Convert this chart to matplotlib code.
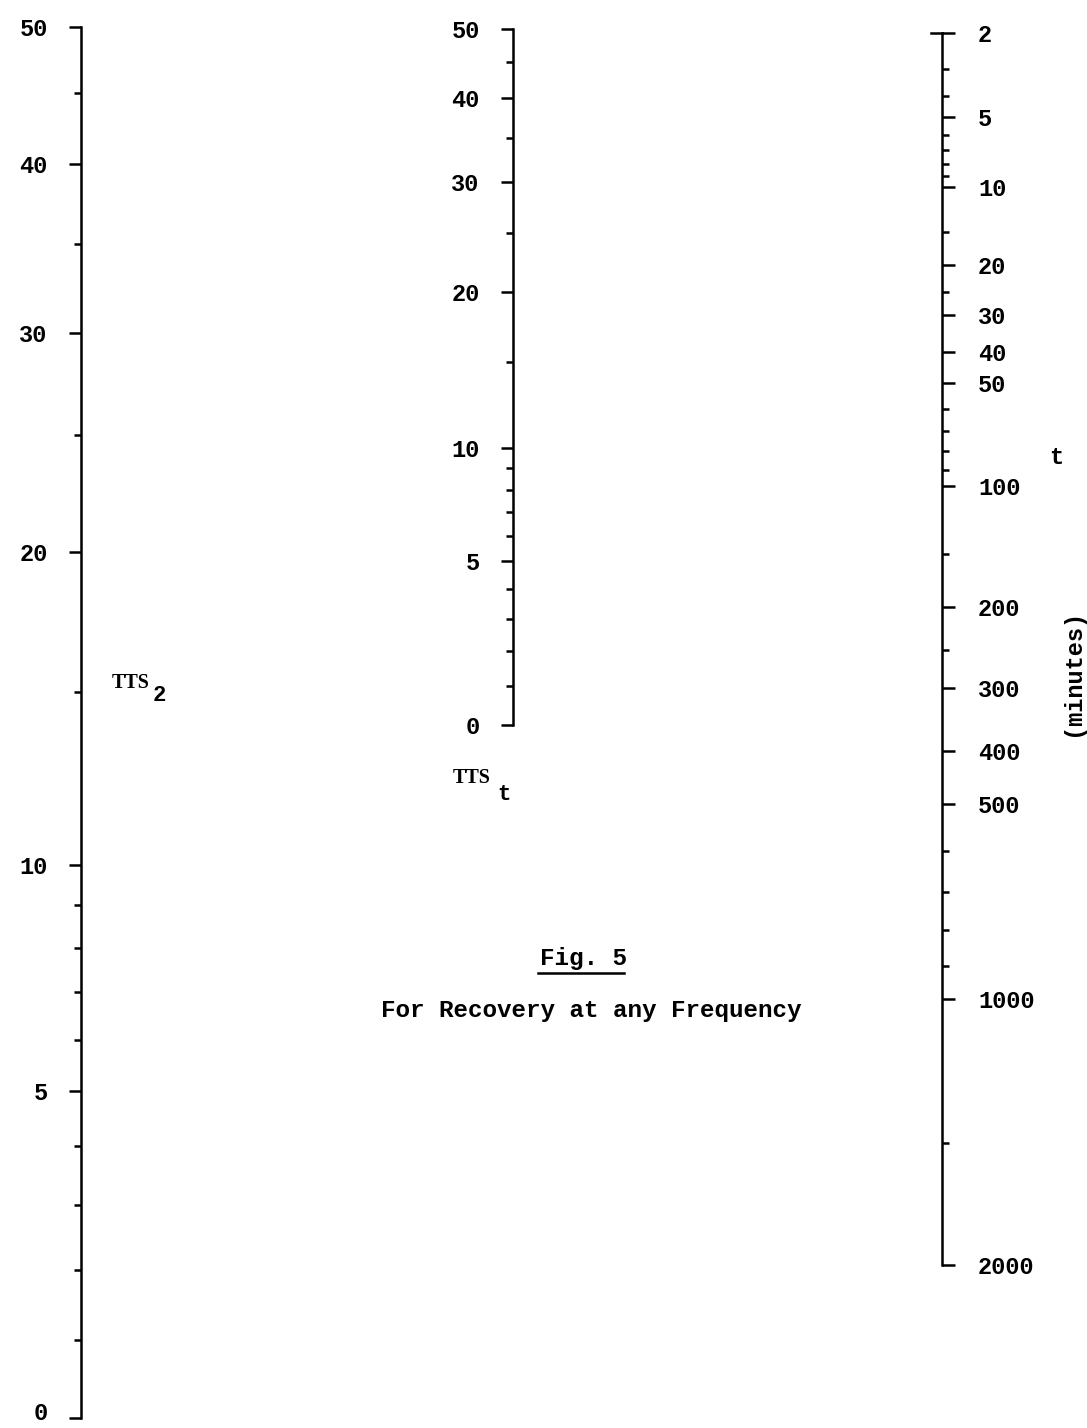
import numpy as np
import matplotlib
matplotlib.use("Agg")
import matplotlib.pyplot as plt
import matplotlib.transforms as mtransforms
from matplotlib.ticker import FixedLocator, NullFormatter
from matplotlib.lines import Line2D

# ---------------- data (scale values of the nomogram) ----------------
tts2_major = [0, 5, 10, 20, 30, 40, 50]
tts2_minor = [1, 2, 3, 4, 6, 7, 8, 9, 15, 25, 35, 45]
ttst_major = [0, 5, 10, 20, 30, 40, 50]
ttst_minor = [1, 2, 3, 4, 6, 7, 8, 9, 15, 25, 35, 45]
t_major = [2, 5, 10, 20, 30, 40, 50, 100, 200, 300, 400, 500, 1000, 2000]
t_minor = [3, 4, 6, 7, 8, 9, 15, 25, 60, 70, 80, 90, 150, 250,
           600, 700, 800, 900, 1500]
title_text = "Fig. 5"
subtitle_text = "For Recovery at any Frequency"

OFFSET = 9.0    # TTS scales: log10(TTS + 9)
K = 0.271       # t scale: -log10(1 - K*log10(t/2))

# ---------------- scale functions ----------------
def tts_fwd(x):
    x = np.asarray(x, dtype=float)
    return np.log10(np.maximum(x + OFFSET, 1e-6))

def tts_inv(y):
    return 10 ** np.asarray(y, dtype=float) - OFFSET

def t_fwd(t):
    t = np.maximum(np.asarray(t, dtype=float), 1e-6)
    inner = np.maximum(1 - K * np.log10(t / 2.0), 1e-6)
    return -np.log10(inner)

def t_inv(y):
    y = np.asarray(y, dtype=float)
    return 2.0 * 10 ** ((1 - 10 ** (-y)) / K)

plt.rcParams["font.family"] = ["Liberation Mono", "DejaVu Sans Mono"]
plt.rcParams["font.weight"] = "bold"

W, H = 1087, 1428
fig = plt.figure(figsize=(W / 100, H / 100), dpi=100)
fig.patch.set_facecolor("white")

LW = 1.8
MAJ_LEN, MIN_LEN = 9, 5
FS = 17


def px(x, y):
    return x / W, 1 - y / H


def style_axis(ax, side, major, minor, fwd, inv, lims, pad):
    ax.set_yscale("function", functions=(fwd, inv))
    ax.set_ylim(*lims)
    ax.set_xticks([])
    ax.patch.set_alpha(0)
    for s in ["left", "right", "top", "bottom"]:
        ax.spines[s].set_visible(s == side)
    ax.spines[side].set_linewidth(LW)
    if side == "right":
        ax.yaxis.tick_right()
    else:
        ax.yaxis.tick_left()
    ax.yaxis.set_major_locator(FixedLocator(major))
    ax.yaxis.set_minor_locator(FixedLocator(minor))
    ax.yaxis.set_minor_formatter(NullFormatter())
    ax.set_yticklabels([str(v) for v in major])
    ax.tick_params(axis="y", which="major", direction="out", length=MAJ_LEN,
                   width=LW, pad=pad, labelsize=FS)
    ax.tick_params(axis="y", which="minor", direction="out", length=MIN_LEN,
                   width=LW)


# left scale: TTS_2 (spine x~81, 0 at y~1418, 50 at y~27)
x0, y0 = px(81, 1418)
_, y1 = px(81, 27)
axL = fig.add_axes([x0, y0, 0.01, y1 - y0])
style_axis(axL, "left", tts2_major, tts2_minor, tts_fwd, tts_inv, (0, 50), 15)
# lift the bottom "0" label a little so it stays inside the page
lbl0 = axL.get_yticklabels()[0]
lbl0.set_transform(lbl0.get_transform() +
                   mtransforms.ScaledTranslation(0, 5 / 72, fig.dpi_scale_trans))

# middle scale: TTS_t (spine x~513, 0 at y~725, 50 at y~29)
x0, y0 = px(513, 725)
_, y1 = px(513, 29)
axM = fig.add_axes([x0, y0, 0.01, y1 - y0])
style_axis(axM, "left", ttst_major, ttst_minor, tts_fwd, tts_inv, (0, 50), 15)

# right scale: t (spine x~942, 2 at y~33, 2000 at y~1265)
xr, y0 = px(942, 1265)
_, y1 = px(942, 33)
axR = fig.add_axes([xr - 0.01, y0, 0.01, y1 - y0])
style_axis(axR, "right", t_major, t_minor, t_fwd, t_inv, (2000, 2), 17)
# small T-cap on the top of the t scale
axR.add_line(Line2D([0.0, 1.0], [2, 2], transform=axR.get_yaxis_transform(),
                    color="black", lw=LW, clip_on=False))

# scale labels
fig.text(*px(112, 683), "TTS", fontsize=14.5, ha="left", va="center",
         family=["Liberation Serif", "DejaVu Serif"])
fig.text(*px(153, 695), "2", fontsize=16, ha="left", va="center")
fig.text(*px(453, 778), "TTS", fontsize=14.5, ha="left", va="center",
         family=["Liberation Serif", "DejaVu Serif"])
fig.text(*px(497, 795), "t", fontsize=16, ha="left", va="center")
fig.text(*px(1056, 458), "t", fontsize=FS, ha="center", va="center")
fig.text(*px(1072, 672), "(minutes)", fontsize=FS, ha="center", va="center",
         rotation=90)

# caption
fig.text(*px(583, 958), title_text, fontsize=17.5, ha="center", va="center")
fig.add_artist(Line2D([538 / W, 624 / W], [1 - 973 / H, 1 - 973 / H],
                      transform=fig.transFigure, color="black", lw=1.8))
fig.text(*px(591, 1011), subtitle_text, fontsize=17.5, ha="center",
         va="center")

fig.savefig("out.png", dpi=100, facecolor="white")
